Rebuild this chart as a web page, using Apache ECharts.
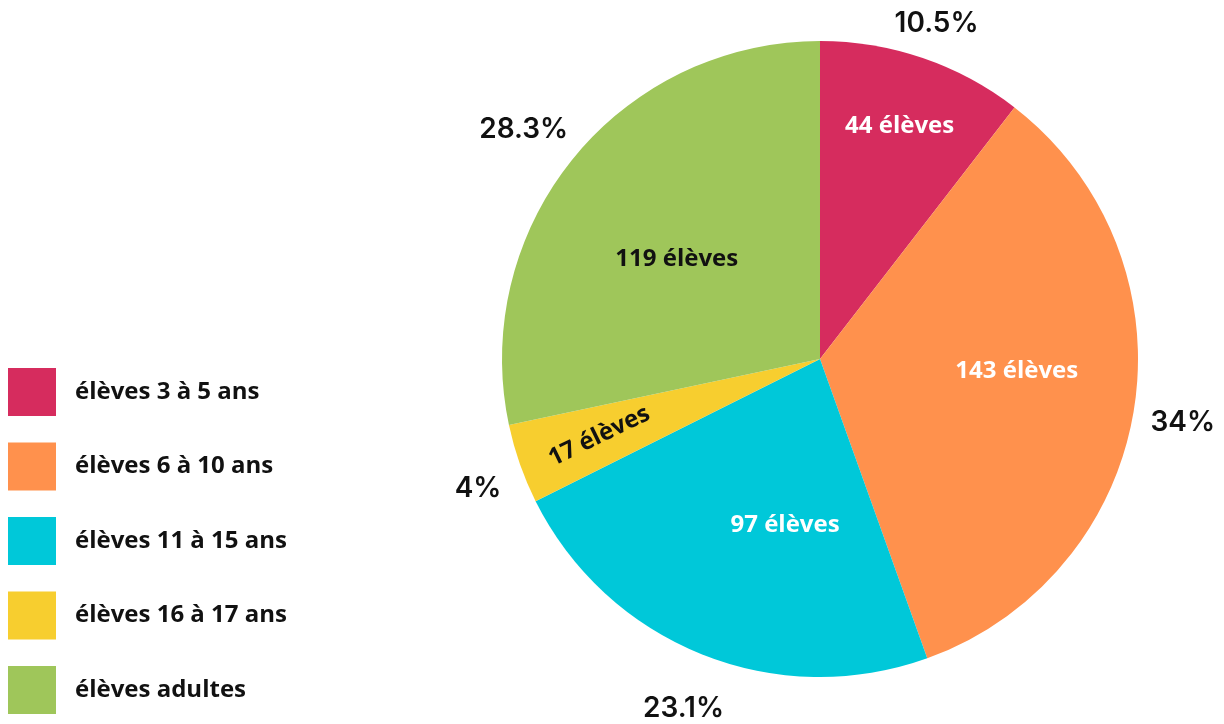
<!DOCTYPE html>
<html><head><meta charset="utf-8">
<script src="https://cdn.jsdelivr.net/npm/echarts@6/dist/echarts.min.js"></script>
<style>html,body{margin:0;padding:0;background:#fff}#c{width:1224px;height:724px}</style>
</head><body><div id="c"></div>
<script>
// ---- data ----
const categories = ['élèves 3 à 5 ans', 'élèves 6 à 10 ans', 'élèves 11 à 15 ans', 'élèves 16 à 17 ans', 'élèves adultes'];
const counts = [44, 143, 97, 17, 119];
const unitLabel = 'élèves';

// ---- style ----
const colors = ['#D62C5E', '#FF914D', '#00C8D9', '#F7CE2F', '#9FC65A'];
const innerTextColors = ['#ffffff', '#ffffff', '#ffffff', '#111111', '#111111'];
const innerRotate = [0, 0, 0, 26, 0];
const innerRadiusFrac = [0.775, 0.62, 0.535, 0.735, 0.55];
const innerAngleShift = [0, -5.5, -10, 0, -4];
const outerRadius = [357, 368, 373, 365, 376];
const outerAngleShift = [0.2, 0.7, -0.4, -1.2, -1.0];
const CX = 820, CY = 359, R = 318;

const total = counts.reduce((a, b) => a + b, 0);
const midAngles = [];
{ let acc = 0; counts.forEach(v => { midAngles.push((acc + v / 2) / total * 360); acc += v; }); }
function pos(angleDeg, r) {
  const t = angleDeg * Math.PI / 180;
  return [CX + r * Math.sin(t), CY - r * Math.cos(t)];
}

const chart = echarts.init(document.getElementById('c'), null, {renderer: 'canvas'});
chart.setOption({
  backgroundColor: '#ffffff',
  animation: false,
  legend: {
    orient: 'vertical', left: 3, top: 363,
    itemWidth: 48, itemHeight: 48, itemGap: 26.5,
    icon: 'rect',
    data: categories,
    textStyle: {fontFamily: 'Open Sans', fontWeight: 'bold', fontSize: 24, color: '#111', padding: [0, 0, 0, 14]}
  },
  series: [
    {
      type: 'pie', center: [CX, CY], radius: [0, R], startAngle: 90, clockwise: true,
      silent: true,
      label: {show: true, position: 'inside', fontFamily: 'Open Sans', fontWeight: 'bold', fontSize: 24,
        formatter: p => p.value + ' ' + unitLabel},
      labelLine: {show: false},
      labelLayout: function (p) {
        const i = p.dataIndex;
        const xy = pos(midAngles[i] + innerAngleShift[i], R * innerRadiusFrac[i]);
        return {x: xy[0], y: xy[1], align: 'center', verticalAlign: 'middle'};
      },
      data: categories.map((c, i) => ({
        name: c, value: counts[i],
        itemStyle: {color: colors[i]},
        label: {color: innerTextColors[i], rotate: innerRotate[i]}
      }))
    },
    {
      type: 'pie', center: [CX, CY], radius: [R + 20, R + 80], startAngle: 90, clockwise: true,
      silent: true,
      itemStyle: {color: 'rgba(0,0,0,0)'},
      label: {show: true, position: 'inside', fontFamily: 'Inter', fontWeight: 600, fontSize: 28, color: '#111',
        formatter: p => Number((p.value / total * 100).toFixed(1)) + '%'},
      labelLine: {show: false},
      labelLayout: function (p) {
        const i = p.dataIndex;
        const xy = pos(midAngles[i] + outerAngleShift[i], outerRadius[i]);
        return {x: xy[0], y: xy[1] + 2, align: 'center', verticalAlign: 'middle'};
      },
      data: categories.map((c, i) => ({name: c, value: counts[i]}))
    }
  ]
});
</script></body></html>
